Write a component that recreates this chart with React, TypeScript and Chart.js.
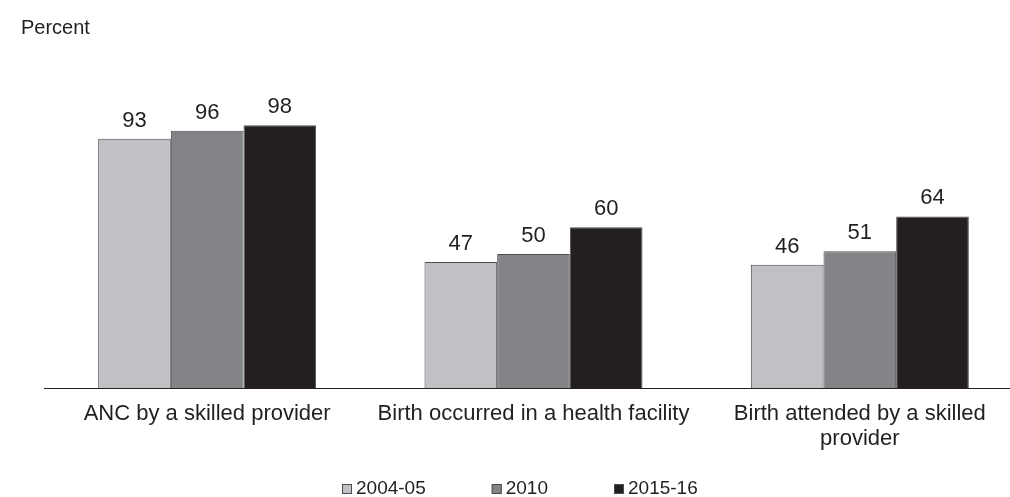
import React, { useEffect, useRef } from "react";
import { Chart, registerables } from "chart.js";

Chart.register(...registerables);

const categories: (string | string[])[] = [
  "ANC by a skilled provider",
  "Birth occurred in a health facility",
  ["Birth attended by a skilled", "provider"],
];
const seriesNames = ["2004-05", "2010", "2015-16"];
const values2004 = [93, 47, 46];
const values2010 = [96, 50, 51];
const values2015 = [98, 60, 64];
const seriesColors = ["#c0c1c5", "#838488", "#231f20"];
const yAxisTitle = "Percent";

const FONT = "'Liberation Sans', Arial, sans-serif";
const TEXT = "#231f20";

const valueLabels = {
  id: "valueLabels",
  afterDatasetsDraw(chart: any) {
    const ctx = chart.ctx;
    ctx.save();
    ctx.font = `22px ${FONT}`;
    ctx.fillStyle = TEXT;
    ctx.textAlign = "center";
    ctx.textBaseline = "alphabetic";
    chart.data.datasets.forEach((ds: any, i: number) => {
      const meta = chart.getDatasetMeta(i);
      meta.data.forEach((el: any, j: number) => {
        ctx.fillText(String(ds.data[j]), el.x, el.y - 12);
      });
    });
    ctx.restore();
  },
};

const extras = {
  id: "extras",
  afterDraw(chart: any) {
    const ctx = chart.ctx;
    ctx.save();
    // axis title
    ctx.font = `20px ${FONT}`;
    ctx.fillStyle = TEXT;
    ctx.textAlign = "left";
    ctx.textBaseline = "alphabetic";
    ctx.fillText(yAxisTitle, 21, 34);
    // legend
    ctx.font = `19px ${FONT}`;
    let x = 342;
    const boxTop = 484;
    const baseline = 494;
    chart.data.datasets.forEach((ds: any) => {
      ctx.fillStyle = ds.backgroundColor;
      ctx.fillRect(x, boxTop, 10, 10);
      ctx.strokeStyle = "#4d4d4f";
      ctx.lineWidth = 1;
      ctx.strokeRect(x + 0.5, boxTop + 0.5, 9, 9);
      ctx.fillStyle = TEXT;
      ctx.fillText(ds.label, x + 14, baseline);
      x += 14 + ctx.measureText(ds.label).width + 66;
    });
    ctx.restore();
  },
};

export default function App() {
  const ref = useRef<HTMLCanvasElement>(null);
  useEffect(() => {
    if (!ref.current) return;
    const series = [values2004, values2010, values2015];
    const chart = new Chart(ref.current, {
      type: "bar",
      data: {
        labels: categories,
        datasets: series.map((d, i) => ({
          label: seriesNames[i],
          data: d,
          backgroundColor: seriesColors[i],
          borderColor: "#4d4d4f",
          borderWidth: 1,
          barPercentage: 1,
          categoryPercentage: 0.668,
        })),
      },
      options: {
        animation: false,
        responsive: false,
        devicePixelRatio: 1,
        layout: { padding: { top: 120, left: 44, right: 7, bottom: 0 } },
        plugins: {
          legend: { display: false },
          tooltip: { enabled: false },
          title: { display: false },
        },
        scales: {
          x: {
            grid: { display: false, drawTicks: false },
            border: { display: true, color: TEXT, width: 1 },
            ticks: {
              font: { size: 22, family: FONT, lineHeight: 1.15 },
              color: TEXT,
              padding: 13,
              maxRotation: 0,
              autoSkip: false,
            },
            afterFit: (s: any) => {
              s.height = 109;
            },
          },
          y: { display: false, min: 0, max: 100 },
        },
      },
      plugins: [valueLabels, extras],
    });
    return () => chart.destroy();
  }, []);
  return (
    <div
      style={{
        position: "absolute",
        left: 0,
        top: 0,
        width: 1010,
        height: 497,
        overflow: "hidden",
        background: "#fff",
      }}
    >
      <canvas ref={ref} width={1030} height={497} style={{ display: "block" }} />
    </div>
  );
}
